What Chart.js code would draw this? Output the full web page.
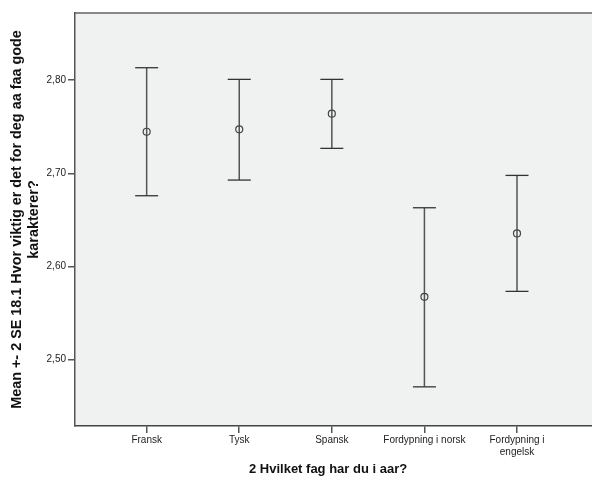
<!DOCTYPE html>
<html><head><meta charset="utf-8">
<script src="https://cdn.jsdelivr.net/npm/chart.js@4/dist/chart.umd.min.js"></script>
<style>html,body{margin:0;padding:0;background:#fff}</style>
</head><body>
<canvas id="c" width="592" height="481"></canvas>
<script>
const categories = ["Fransk", "Tysk", "Spansk", "Fordypning i norsk", ["Fordypning i", "engelsk"]];
const means = [2.7445, 2.7471, 2.7639, 2.5675, 2.6355];
const upper = [2.8132, 2.8007, 2.8007, 2.6630, 2.6977];
const lower = [2.6759, 2.6927, 2.7267, 2.4709, 2.5733];
const yTicks = [2.5, 2.6, 2.7, 2.8];
const yTitle = ["Mean +- 2 SE 18.1 Hvor viktig er det for deg aa faa gode", "karakterer?"];
const xTitle = "2 Hvilket fag har du i aar?";

const idx = categories.map((_, i) => i);
const stems = [];
idx.forEach(i => { stems.push({x: i, y: lower[i]}, {x: i, y: upper[i]}, {x: i, y: null}); });
const caps = [];
idx.forEach(i => { caps.push({x: i, y: lower[i]}, {x: i, y: upper[i]}); });
const meanPts = idx.map(i => ({x: i, y: means[i]}));

const FONT = 'Arial, "Liberation Sans", sans-serif';
const bgPlugin = {
  id: 'bg',
  beforeDraw(chart) {
    const {ctx, chartArea: a} = chart;
    ctx.save();
    ctx.fillStyle = '#f0f1f1';
    ctx.fillRect(a.left, a.top, a.right - a.left, a.bottom - a.top);
    ctx.restore();
  }
};
const noPad = s => { s.paddingLeft = 0; s.paddingRight = 0; };

new Chart(document.getElementById('c'), {
  type: 'scatter',
  data: {
    datasets: [
      {data: stems, showLine: true, spanGaps: false, borderColor: '#555', borderWidth: 1.5, pointRadius: 0, order: 3},
      {data: caps, pointStyle: 'line', pointRadius: 11.5, borderColor: '#333', borderWidth: 1.3, pointHoverRadius: 11.5, order: 2},
      {data: meanPts, pointStyle: 'circle', pointRadius: 3.5, borderColor: '#444', backgroundColor: 'rgba(0,0,0,0)', borderWidth: 1.2, order: 1}
    ]
  },
  options: {
    responsive: false,
    animation: false,
    devicePixelRatio: 1,
    layout: {autoPadding: false, padding: {top: 13, right: 0, left: 0, bottom: 0}},
    plugins: {legend: {display: false}, tooltip: {enabled: false}},
    scales: {
      x: {
        type: 'linear', position: 'bottom', min: -0.774, max: 4.81,
        afterBuildTicks: s => { s.ticks = idx.map(v => ({value: v})); },
        afterFit: s => { s.height = 55; noPad(s); },
        ticks: {callback: v => categories[v], font: {family: FONT, size: 10}, color: '#222', maxRotation: 0, autoSkip: false, padding: 1},
        grid: {display: true, drawOnChartArea: false, drawTicks: true, tickLength: 7, color: '#555', lineWidth: 1.5},
        border: {display: true, color: '#444', width: 1.5},
        title: {display: true, text: xTitle + '   ', font: {family: FONT, size: 13, weight: 'bold'}, color: '#111', padding: {top: 0, bottom: 4}}
      },
      xTop: {
        type: 'linear', position: 'top', display: true, min: 0, max: 1,
        afterFit: s => { s.height = 0; noPad(s); },
        ticks: {display: false},
        grid: {display: true, drawOnChartArea: false, drawTicks: false},
        border: {display: true, color: '#888', width: 2}
      },
      y: {
        type: 'linear', min: 2.4289, max: 2.8719,
        afterBuildTicks: s => { s.ticks = yTicks.map(v => ({value: v})); },
        afterFit: s => { s.width = 75; },
        ticks: {callback: v => v.toFixed(2).replace('.', ','), font: {family: FONT, size: 10}, color: '#222', padding: 2},
        grid: {display: true, drawOnChartArea: false, drawTicks: true, tickLength: 7, color: '#555', lineWidth: 1.5},
        border: {display: true, color: '#555', width: 1.5},
        title: {display: true, text: yTitle, font: {family: FONT, size: 14.4, weight: 'bold', lineHeight: 1.2}, color: '#111', padding: {top: 8, bottom: 0}}
      }
    }
  },
  plugins: [bgPlugin]
});
</script>
</body></html>
